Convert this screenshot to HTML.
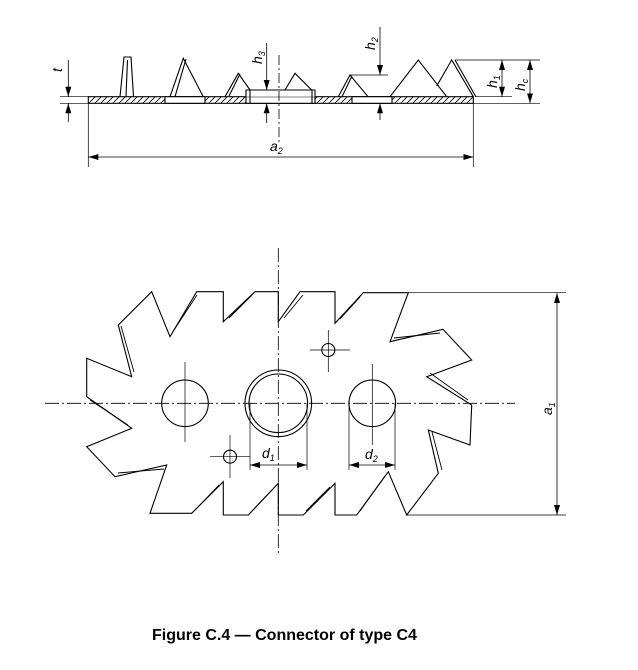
<!DOCTYPE html>
<html><head><meta charset="utf-8"><style>
html,body{margin:0;padding:0;background:#fff;}
svg{display:block;}
text{font-family:"Liberation Sans",sans-serif;}
</style></head><body>
<svg width="638" height="670" viewBox="0 0 638 670" xmlns="http://www.w3.org/2000/svg">
<defs>
<marker id="a" viewBox="0 0 10 6" refX="10" refY="3" markerWidth="10" markerHeight="6" orient="auto-start-reverse" markerUnits="userSpaceOnUse"><path d="M0,0 L10,3 L0,6 Z" fill="#000"/></marker>
<pattern id="h" width="6" height="6" patternUnits="userSpaceOnUse"><path d="M0,6 L6,0" stroke="#000" stroke-width="0.8"/></pattern>
</defs>
<g stroke="#000" fill="none" stroke-width="1.1">
<!-- TOP VIEW -->
<rect x="88.3" y="96.7" width="385" height="6.6" fill="url(#h)"/>
<rect x="165" y="96.7" width="40" height="6.6" fill="#fff"/>
<rect x="352" y="96.7" width="40" height="6.6" fill="#fff"/>
<rect x="246" y="96.7" width="69" height="6.6" fill="#fff"/>
<path d="M246,96.7 V90 H315 V96.7" fill="#fff"/>
<path d="M250,90 V103.3 M312,90 V103.3"/>
<path d="M120,96.7 L124,57 L131,57 L133.5,96.7 M126,96.7 L127.5,60"/>
<path d="M170,96.7 L183.3,58.3 L203.3,96.7 M175,96.7 L186,59"/>
<path d="M225,96.7 L238.3,73.3 L250,90 M229,96 L240,74"/>
<path d="M285,90 L295,73.3 L311.7,90"/>
<path d="M338.3,96.7 L350,75 L368,96.7 M342,96.7 L352,76"/>
<path d="M390,96.7 L418.3,60 L446.7,96.7"/>
<path d="M436.7,86 L451.7,60 L473.3,96.7 M455,60 L476,97"/>
<path d="M279,55 V145" stroke-dasharray="10,3,2,3" stroke-width="0.8"/>
<!-- dims top -->
<path d="M60,96.7 H88 M60,103.3 H88" stroke-width="0.7"/>
<path d="M68.3,60 V96.7" marker-end="url(#a)" stroke-width="0.8"/>
<path d="M68.3,122 V103.3" marker-end="url(#a)" stroke-width="0.8"/>
<path d="M266.7,43 V90" marker-end="url(#a)" stroke-width="0.8"/>
<path d="M266.7,123 V103.3" marker-end="url(#a)" stroke-width="0.8"/>
<path d="M380,27 V75" marker-end="url(#a)" stroke-width="0.8"/>
<path d="M380,120 V103.3" marker-end="url(#a)" stroke-width="0.8"/>
<path d="M350,75 H388" stroke-width="0.7"/>
<path d="M455,60 H540 M475,96.7 H512 M473,103.3 H540" stroke-width="0.7"/>
<path d="M502,60 V96.7" marker-start="url(#a)" marker-end="url(#a)" stroke-width="0.8"/>
<path d="M530,60 V103.3" marker-start="url(#a)" marker-end="url(#a)" stroke-width="0.8"/>
<path d="M88.3,103 V167 M473.3,103 V167" stroke-width="0.7"/>
<path d="M88.3,157 H473.3" marker-start="url(#a)" marker-end="url(#a)" stroke-width="0.8"/>
<!-- PLAN VIEW -->
<path d="M151.7,291.7 L170,336.7 L196.7,291.7 L223.3,291.7 L223.3,321.7 L255,291.7 L278.3,291.7 L278.3,321.7 L300,291.7 L335,291.7 L335,323.3 L363.3,292.7 L408.3,292.7 L390,341.7 L443,329.3 L471.7,360 L426.7,376.7 L471.7,405 L470,445 L428.3,430 L438.3,473.3 L406.7,515 L388.3,471.7 L356.7,515 L335,515 L335,483.3 L303.3,515 L278.3,515 L278.3,483.3 L248.3,515 L223.3,515 L223.3,481.7 L191.7,513.3 L150,513.3 L166.7,465 L115,476.7 L86.7,446.7 L131.7,428.3 L86.7,396.7 L86.7,358.3 L131.7,376.7 L118.3,325 Z"/>
<g stroke-width="0.9">
<path d="M172,333 L197,295 M229,318 L252,295 M284,318 L303,295 M340,319 L360,297"/>
<path d="M394,338 L440,333 M430,373 L468,400 M432,432 L442,470 M360,511 L385,476 M306,511 L330,487 M252,511 L274,488 M196,509 L219,485 M118,473 L164,469 M90,400 L128,425 M121,326 L134,372"/>
</g>
<circle cx="185" cy="403.3" r="23.3"/>
<circle cx="278.3" cy="403.3" r="33.3"/>
<circle cx="278.3" cy="403.3" r="29.3"/>
<circle cx="372.3" cy="403.3" r="23.3"/>
<circle cx="328.3" cy="350" r="6.5"/>
<circle cx="230" cy="456.7" r="6.5"/>
<g stroke-width="0.7">
<path d="M310,350 H350 M328.3,330 V372"/>
<path d="M210,456.7 H250 M230,435 V478"/>
<path d="M185,362 V442 M372.3,364 V445"/>
</g>
<path d="M45,403.3 H515" stroke-dasharray="14,3,2,3" stroke-width="0.8"/>
<path d="M278.3,248 V555" stroke-dasharray="14,3,2,3" stroke-width="0.8"/>
<path d="M408,292.7 H566 M406,515 H566" stroke-width="0.7"/>
<path d="M557,293 V515" marker-start="url(#a)" marker-end="url(#a)" stroke-width="0.8"/>
<path d="M250,403 V470 M307,403 V470 M349,403 V470 M395,403 V470" stroke-width="0.7"/>
<path d="M250,465 H307" marker-start="url(#a)" marker-end="url(#a)" stroke-width="0.8"/>
<path d="M349,465 H395" marker-start="url(#a)" marker-end="url(#a)" stroke-width="0.8"/>
</g>
<g font-style="italic" font-size="14" fill="#000">
<text transform="translate(62,72) rotate(-90)">t</text>
<text transform="translate(262,64) rotate(-90)">h<tspan font-size="9" dy="3">3</tspan></text>
<text transform="translate(375,50) rotate(-90)">h<tspan font-size="9" dy="3">2</tspan></text>
<text transform="translate(497,88) rotate(-90)">h<tspan font-size="9" dy="3">1</tspan></text>
<text transform="translate(525,91) rotate(-90)">h<tspan font-size="9" dy="3">c</tspan></text>
<text x="270" y="151">a<tspan font-size="9" dy="3">2</tspan></text>
<text x="262" y="458">d<tspan font-size="9" dy="3">1</tspan></text>
<text x="365" y="459">d<tspan font-size="9" dy="3">2</tspan></text>
<text transform="translate(552,415) rotate(-90)">a<tspan font-size="9" dy="3">1</tspan></text>
</g>
<text x="152" y="640" font-size="16" font-weight="bold" fill="#000">Figure C.4 — Connector of type C4</text>
</svg>
</body></html>
